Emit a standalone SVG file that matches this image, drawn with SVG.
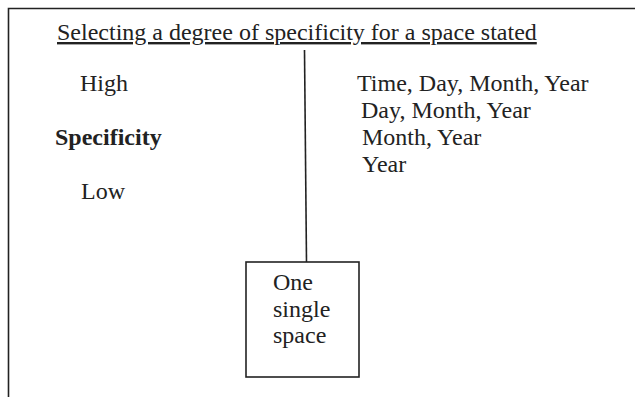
<svg xmlns="http://www.w3.org/2000/svg" width="635" height="397" viewBox="0 0 635 397">
<style>
text{font-family:"Liberation Serif","Times New Roman",serif;font-size:24px;fill:#222}
.b{font-weight:bold}
.ln{stroke:#222;stroke-width:1.6;fill:none}
</style>
<rect width="635" height="397" fill="#fff"/>
<path class="ln" d="M8.5 397V8.5H635"/>
<text id="title" x="57" y="40" text-decoration="underline">Selecting a degree of specificity for a space stated</text>
<g id="scale">
<text x="80" y="91">High</text>
<text class="b" x="55" y="145">Specificity</text>
<text x="81" y="199">Low</text>
</g>
<g id="levels">
<text x="357" y="91">Time, Day, Month, Year</text>
<text x="361" y="118">Day, Month, Year</text>
<text x="362" y="145">Month, Year</text>
<text x="362" y="172">Year</text>
</g>
<g id="connectors">
<line class="ln" x1="304.5" y1="50" x2="306.5" y2="262"/>
</g>
<g id="box">
<rect class="ln" x="246" y="262" width="113" height="115"/>
<text x="273" y="290">One</text>
<text x="273" y="317">single</text>
<text x="273" y="343">space</text>
</g>
</svg>
